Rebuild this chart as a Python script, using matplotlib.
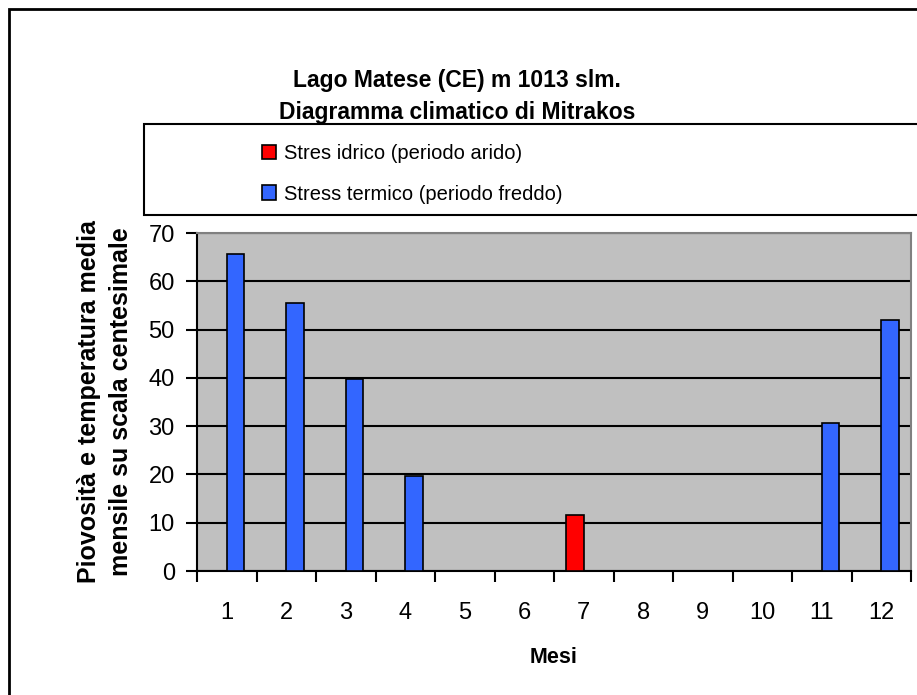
import numpy as np
import matplotlib
matplotlib.use("Agg")
import matplotlib.pyplot as plt
from matplotlib.patches import Rectangle

plt.rcParams['font.family'] = ['Liberation Sans', 'DejaVu Sans']

# Dati
mesi = [1, 2, 3, 4, 5, 6, 7, 8, 9, 10, 11, 12]
stress_idrico = [0, 0, 0, 0, 0, 0, 11.6, 0, 0, 0, 0, 0]
stress_termico = [65.6, 55.6, 39.8, 19.6, 0, 0, 0, 0, 0, 0, 30.7, 52.0]
yticks = [0, 10, 20, 30, 40, 50, 60, 70]

W, H = 917, 695
fig = plt.figure(figsize=(W / 100, H / 100), dpi=100)

# cornice esterna
fig.patches.append(Rectangle((9 / W, -0.1), 1.2, 1 - 9 / H + 0.1, transform=fig.transFigure,
                             fill=False, edgecolor='black', linewidth=2))

ax = fig.add_axes([197 / W, 1 - 571 / H, (911 - 197) / W, (571 - 233) / H])
ax.set_facecolor('#c0c0c0')

x = np.arange(len(mesi))
w = 0.29
ax.bar(x - w / 2, stress_idrico, w, color='#ff0000', edgecolor='black', linewidth=1.2,
       label='Stres idrico (periodo arido)', zorder=3)
ax.bar(x + w / 2, stress_termico, w, color='#3366ff', edgecolor='black', linewidth=1.2,
       label='Stress termico (periodo freddo)', zorder=3)

ax.set_xlim(-0.5, len(mesi) - 0.5)
ax.set_ylim(0, 70)
ax.set_yticks(yticks)
ax.yaxis.grid(True, color='black', linewidth=1.5, zorder=1)
ax.set_axisbelow(True)

ax.set_xticks(np.arange(len(mesi) + 1) - 0.5)
ax.set_xticklabels([])
ax.set_xticks(x, minor=True)
ax.set_xticklabels([str(m) for m in mesi], minor=True)
ax.tick_params(axis='x', which='major', length=8, width=1.5, direction='out')
ax.tick_params(axis='x', which='minor', length=0, pad=22, labelsize=17)
ax.tick_params(axis='y', length=8, width=1.5, direction='out', labelsize=17, pad=8)

for s in ['top', 'right']:
    ax.spines[s].set_color('#808080')
    ax.spines[s].set_linewidth(1.5)
for s in ['left', 'bottom']:
    ax.spines[s].set_color('black')
    ax.spines[s].set_linewidth(1.5)

ax.set_xlabel('Mesi', fontsize=15.5, fontweight='bold', labelpad=17)
ax.set_ylabel('Piovosità e temperatura media\nmensile su scala centesimale',
              fontsize=18, fontweight='bold', labelpad=11, linespacing=1.45)

fig.text(457 / W, 1 - 81 / H, 'Lago Matese (CE) m 1013 slm.', ha='center', va='center',
         fontsize=16.5, fontweight='bold')
fig.text(457 / W, 1 - 113 / H, 'Diagramma climatico di Mitrakos', ha='center', va='center',
         fontsize=16.5, fontweight='bold')

# riquadro legenda
fig.patches.append(Rectangle((144 / W, 1 - 215 / H), 1.0, 91 / H, transform=fig.transFigure,
                             facecolor='white', edgecolor='black', linewidth=1.5))
h, l = ax.get_legend_handles_labels()
fig.legend(h, l, loc='center', bbox_to_anchor=(412 / W, 1 - 174 / H), frameon=False,
           fontsize=14.5, handlelength=0.7, handleheight=0.7, handletextpad=0.4,
           labelspacing=1.05)

fig.savefig('out.png', dpi=100)
